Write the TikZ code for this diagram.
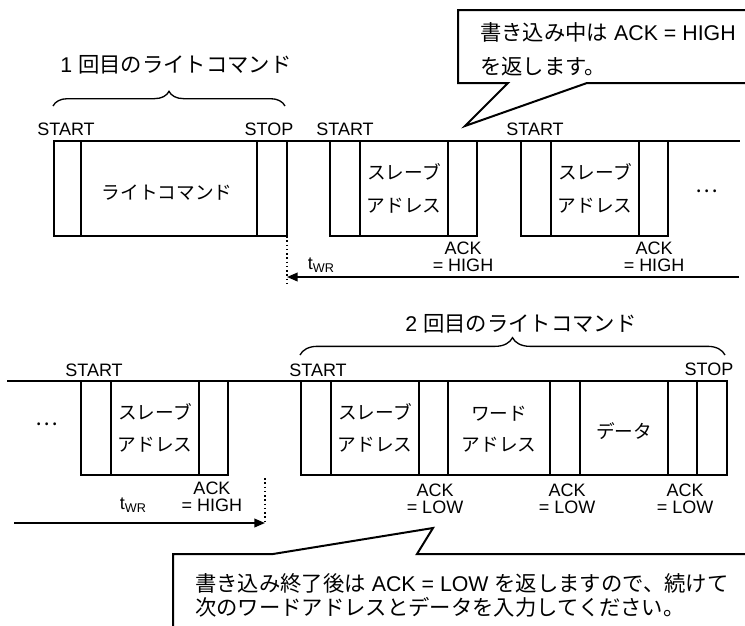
\documentclass[tikz,border=0pt]{standalone}
\usepackage{fontspec}
\setmainfont{Liberation Sans}
\newfontfamily\jp{Noto Sans CJK JP}
\usetikzlibrary{decorations.pathreplacing,arrows.meta}
\begin{document}
\begin{tikzpicture}[x=0.75pt,y=-0.75pt,
  sig/.style={line width=1.5pt, line join=miter, line cap=rect},
  lbl/.style={font=\fontsize{13.5}{12.75}\selectfont, inner sep=0pt, align=center},
  jlbl/.style={font=\jp\fontsize{14}{16}\selectfont, inner sep=0pt},
  big/.style={font=\fontsize{16}{18}\selectfont, inner sep=0pt},
  dotsstyle/.style={font=\jp\fontsize{16}{18}\selectfont, inner sep=0pt},
  bubble/.style={line width=1.5pt, line join=miter, fill=white},
  twr/.style={line width=1.3pt, -{Triangle[length=8pt,width=6.5pt]}},
  dotline/.style={line width=1.2pt, dotted},
  bracestyle/.style={line width=1pt, decorate, decoration={brace, amplitude=#1}}]
\useasboundingbox (0,0) rectangle (745,625);
\clip (0,0) rectangle (745,625);

% ---------------- top row ----------------
\draw[sig] (54,141) -- (739,141);
\draw[sig] (54,141) rectangle (287,236);
\draw[sig] (81,141) -- (81,236) (257,141) -- (257,236);
\draw[sig] (330,141) rectangle (477,236);
\draw[sig] (360,141) -- (360,236) (448,141) -- (448,236);
\draw[sig] (521,141) rectangle (668,236);
\draw[sig] (551,141) -- (551,236) (639,141) -- (639,236);

\node[lbl] (st1) at (66,129) {START};
\node[lbl] (sp1) at (269,129) {STOP};
\node[lbl] (st2) at (345,129) {START};
\node[lbl] (st3) at (535,129) {START};

\node[jlbl] (wc) at (167,193) {ライトコマンド};
\node[jlbl] (sa1a) at (404,172) {スレーブ};
\node[jlbl] (sa1b) at (404,206) {アドレス};
\node[jlbl] (sa2a) at (595,172) {スレーブ};
\node[jlbl] (sa2b) at (595,206) {アドレス};
\node[dotsstyle] (dots1) at (707,191) {…};

\node[lbl] (ack1) at (463,257) {ACK\\= HIGH};
\node[lbl] (ack2) at (654,257) {ACK\\= HIGH};

\coordinate (tA) at (739,277);
\coordinate (tB) at (287,277);
\draw[twr] (tA) -- (tB);
\coordinate (dA) at (287,236);
\coordinate (dB) at (287,284);
\draw[dotline] (dA) -- (dB);
\node[lbl] (twr1) at (321,265) {t\raisebox{-0.3ex}{\fontsize{9.5}{10}\selectfont WR}};

\draw[bracestyle=11pt] (53,106) -- (285,106);
\node[big] (cmd1) at (176,65) {1 {\jp 回目のライトコマンド}};

% callout top
\draw[bubble] (458,10) -- (752,10) -- (752,83) -- (587,83) -- (465,126) -- (508,83) -- (458,83) -- cycle;
\node[big, anchor=west] (c1a) at (480,32) {{\jp 書き込み中は} ACK = HIGH};
\node[big, anchor=west] (c1b) at (480,67) {{\jp を返します。}};

% ---------------- bottom row ----------------
\draw[sig] (8,381) -- (727,381);
\draw[sig] (81,381) rectangle (228,475);
\draw[sig] (111,381) -- (111,475) (199,381) -- (199,475);
\draw[sig] (301,381) rectangle (727,475);
\foreach \xx in {331,419,448,550,580,668,697}
  \draw[sig] (\xx,381) -- (\xx,475);

\node[lbl] (st4) at (94,370) {START};
\node[lbl] (st5) at (318,370) {START};
\node[lbl] (sp2) at (709,369) {STOP};

\node[dotsstyle] (dots2) at (47,424) {…};
\node[jlbl] (sa3a) at (155,412) {スレーブ};
\node[jlbl] (sa3b) at (155,445) {アドレス};
\node[jlbl] (sa4a) at (375,412) {スレーブ};
\node[jlbl] (sa4b) at (375,445) {アドレス};
\node[jlbl] (wa1) at (499,414) {ワード};
\node[jlbl] (wa2) at (499,445) {アドレス};
\node[jlbl] (data) at (624,431) {データ};

\node[lbl] (ack3) at (212,497) {ACK\\= HIGH};
\node[lbl] (ack4) at (435,499) {ACK\\= LOW};
\node[lbl] (ack5) at (567,499) {ACK\\= LOW};
\node[lbl] (ack6) at (685,499) {ACK\\= LOW};

\coordinate (uA) at (14,523);
\coordinate (uB) at (265,523);
\draw[twr] (uA) -- (uB);
\coordinate (eA) at (265,478);
\coordinate (eB) at (265,524);
\draw[dotline] (eA) -- (eB);
\node[lbl] (twr2) at (133,505) {t\raisebox{-0.3ex}{\fontsize{9.5}{10}\selectfont WR}};

\draw[bracestyle=13pt] (300,355) -- (725,355);
\node[big] (cmd2) at (521,324) {2 {\jp 回目のライトコマンド}};

% callout bottom
\draw[bubble] (173,632) -- (173,554) -- (273,554) -- (433,528) -- (417,554) -- (752,554) -- (752,632) -- cycle;
\node[big, anchor=west] (c2a) at (195,583) {{\jp 書き込み終了後は} ACK = LOW {\jp を返しますので、続けて}};
\node[big, anchor=west] (c2b) at (195,607) {{\jp 次のワードアドレスとデータを入力してください。}};
\end{tikzpicture}
\end{document}
